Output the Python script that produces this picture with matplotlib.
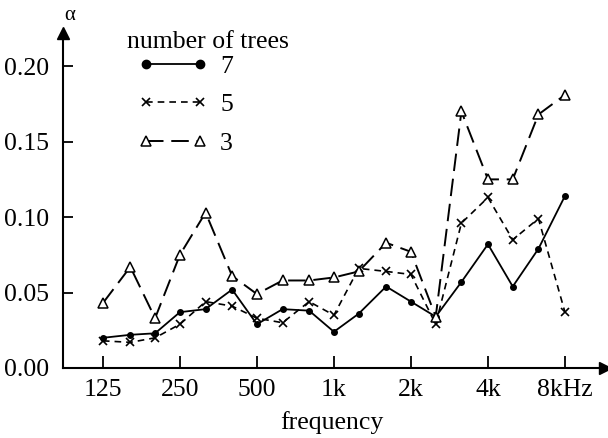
import numpy as np
import matplotlib
matplotlib.use("Agg")
import matplotlib.pyplot as plt

plt.rcParams['font.family'] = ['Liberation Serif', 'DejaVu Serif']

# 1/3 octave band centre frequencies (Hz)
freqs = [125, 160, 200, 250, 315, 400, 500, 630, 800, 1000, 1250, 1600,
         2000, 2500, 3150, 4000, 5000, 6300, 8000]

# absorption coefficient per number of trees
alpha_7 = [0.020, 0.022, 0.023, 0.037, 0.039, 0.052, 0.029, 0.039, 0.038, 0.024,
           0.036, 0.054, 0.044, 0.034, 0.057, 0.082, 0.054, 0.079, 0.114]
alpha_5 = [0.018, 0.017, 0.020, 0.029, 0.044, 0.041, 0.033, 0.030, 0.044, 0.035,
           0.066, 0.064, 0.062, 0.029, 0.096, 0.113, 0.085, 0.099, 0.037]
alpha_3 = [0.043, 0.067, 0.033, 0.075, 0.103, 0.061, 0.049, 0.058, 0.058, 0.060,
           0.064, 0.083, 0.077, 0.034, 0.170, 0.125, 0.125, 0.168, 0.181]

tick_freqs = [125, 250, 500, 1000, 2000, 4000, 8000]
tick_labels = ['125', '250', '500', '1k', '2k', '4k', '8kHz']
y_ticks = [0.00, 0.05, 0.10, 0.15, 0.20]

fs = 18.5

fig = plt.figure(figsize=(6.08, 4.38), dpi=100)
ax = fig.add_axes([63/608, 70/438, 537/608, 335/438])

ax.plot(freqs, alpha_7, color='black', lw=1.3, ls='-', marker='o', ms=4,
        label='7')
ax.plot(freqs, alpha_5, color='black', lw=1.2, ls=(0, (4, 3)), marker='x',
        ms=6, mew=1.2, label='5')
ax.plot(freqs, alpha_3, color='black', lw=1.4, ls=(0, (9, 4)), marker='^',
        ms=7, mfc='white', mew=1.1, label='3')

ax.set_xscale('log', base=2)
ax.set_xlim(87.3, 10966)
ax.set_ylim(0, 0.222)
ax.set_xticks(tick_freqs)
ax.set_xticklabels(tick_labels)
ax.minorticks_off()
ax.set_yticks(y_ticks)
ax.set_yticklabels(['%.2f' % v for v in y_ticks])
ax.tick_params(direction='in', length=9, width=1.3, labelsize=fs, pad=8)
ax.tick_params(axis='y', length=7, pad=10)

for s in ['top', 'right']:
    ax.spines[s].set_visible(False)
for s in ['left', 'bottom']:
    ax.spines[s].set_linewidth(1.5)

# arrow heads on the axes
ax.plot(1.01, 0, marker='>', ms=9, color='black', transform=ax.transAxes,
        clip_on=False)
ax.plot(0, 1.0, marker='^', ms=9, color='black', transform=ax.transAxes,
        clip_on=False)

ax.set_xlabel('frequency', fontsize=fs, labelpad=7)
fig.text(70/608, 1 - 16/438, 'α', fontsize=15, ha='center', va='center')

fig.text(127/608, 1 - 42/438, 'number of trees', fontsize=fs,
         ha='left', va='center')
leg = ax.legend(loc='upper left', bbox_to_anchor=(138/608, 1 - 55/438),
                bbox_transform=fig.transFigure, frameon=False, fontsize=fs,
                numpoints=2, handlelength=2.7, handletextpad=0.5,
                labelspacing=0.6, borderpad=0, borderaxespad=0)
leg.legend_handles[0].set_markersize(6)

fig.savefig('out.png', dpi=100)
